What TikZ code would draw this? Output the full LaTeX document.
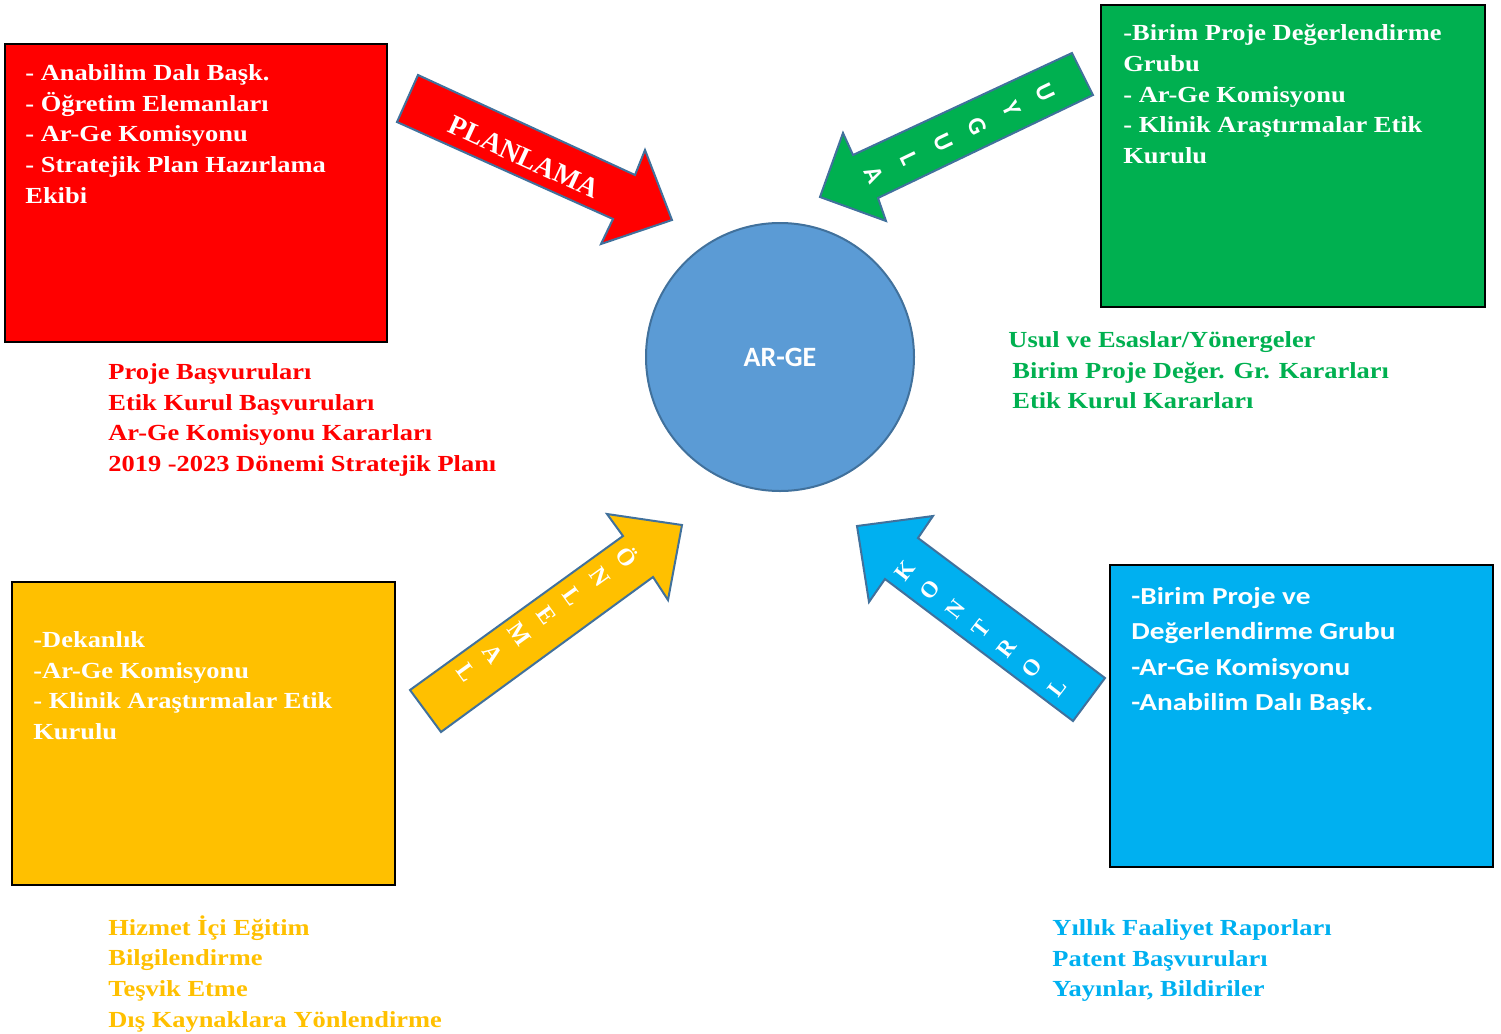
\documentclass[tikz,border=0pt]{standalone}
\usepackage{fontspec}
\setmainfont{Liberation Serif}
\newfontfamily\genis{Liberation Serif}[FakeStretch=1.15]
\newfontfamily\calfont{Carlito}
\newfontfamily\calgenis{Carlito}[FakeStretch=1.2]
\usetikzlibrary{positioning}

\definecolor{kirmizi}{HTML}{FF0000}
\definecolor{yesil}{HTML}{00B050}
\definecolor{sari}{HTML}{FFC000}
\definecolor{mavi}{HTML}{00B0F0}
\definecolor{daire}{HTML}{5B9BD5}
\definecolor{kenar}{HTML}{41719C}

\begin{document}
\begin{tikzpicture}[
      x=0.5pt, y=-0.5pt,
      kutu/.style={draw=black, line width=1pt, anchor=north west,
                   inner sep=0pt, outer sep=0pt},
      ok/.style={draw=kenar, line width=1pt, line join=miter},
      yazi/.style={anchor=north west, inner sep=0pt, align=left,
                   font=\genis\bfseries\fontsize{11.5}{15.35}\selectfont},
      harf/.style={text=white, align=center, inner sep=0pt}
    ]
    \useasboundingbox (0,0) rectangle (1501,1034);

    % kutular
    \node[kutu, fill=kirmizi, minimum width=191pt, minimum height=149pt] (kbox) at (5,44) {};
    \node[kutu, fill=yesil, minimum width=192pt, minimum height=151pt] (ybox) at (1101,5) {};
    \node[kutu, fill=sari, minimum width=191.5pt, minimum height=151.5pt] (sbox) at (12,582) {};
    \node[kutu, fill=mavi, minimum width=191.5pt, minimum height=151pt] (mbox) at (1110,565) {};

    \node[yazi, text=white, below right=10pt and 10pt of kbox.north west] (ktext)
      {- Anabilim Dalı Başk.\\- Öğretim Elemanları\\- Ar-Ge Komisyonu\\- Stratejik Plan Hazırlama\\Ekibi};
    \node[yazi, text=white, below right=9.5pt and 11pt of ybox.north west] (ytext)
      {-Birim Proje Değerlendirme\\Grubu\\- Ar-Ge Komisyonu\\- Klinik Araştırmalar Etik\\Kurulu};
    \node[yazi, text=white, below right=24.5pt and 10.5pt of sbox.north west] (stext)
      {-Dekanlık\\-Ar-Ge Komisyonu\\- Klinik Araştırmalar Etik\\Kurulu};
    \node[yazi, text=white, font=\calgenis\bfseries\fontsize{12.2}{17.75}\selectfont,
          below right=10.8pt and 10.5pt of mbox.north west] (mtext)
      {-Birim Proje ve\\Değerlendirme Grubu\\-Ar-Ge Komisyonu\\-Anabilim Dalı Başk.};

    % alt listeler
    \node[yazi, text=kirmizi] (klist) at (108,363)
      {Proje Başvuruları\\Etik Kurul Başvuruları\\Ar-Ge Komisyonu Kararları\\2019 -2023 Dönemi Stratejik Planı};
    \node[yazi, text=yesil] (ylist) at (1008,331)
      {Usul ve Esaslar/Yönergeler\\\hspace*{2pt}Birim Proje Değer. Gr. Kararları\\\hspace*{2pt}Etik Kurul Kararları};
    \node[yazi, text=sari] (slist) at (108,915)
      {Hizmet İçi Eğitim\\Bilgilendirme\\Teşvik Etme\\Dış Kaynaklara Yönlendirme};
    \node[yazi, text=mavi] (mlist) at (1052,919)
      {Yıllık Faaliyet Raporları\\Patent Başvuruları\\Yayınlar, Bildiriler};

    % merkez
    \node[circle, draw=kenar, fill=daire, line width=1pt, minimum size=134pt,
          text=white, font=\calfont\bfseries\fontsize{14}{14}\selectfont] (arge) at (780,357) {AR-GE};

    % oklar
    \filldraw[ok, fill=kirmizi] (418,75) -- (635,175) -- (645,150) -- (672,220)
      -- (601,244) -- (613,219) -- (397,122) -- cycle;
    \filldraw[ok, fill=yesil] (1072,53) -- (1093,95) -- (878,198) -- (886,221)
      -- (820,197) -- (843,133) -- (853,155) -- cycle;
    \filldraw[ok, fill=sari] (410,690) -- (623,536) -- (607,514) -- (682,525)
      -- (668,600) -- (653,577) -- (441,732) -- cycle;
    \filldraw[ok, fill=mavi] (857,526) -- (933,516) -- (918,538) -- (1105,678)
      -- (1073,721) -- (885,579) -- (869,602) -- cycle;

    \node[harf, rotate=-24.7, font=\bfseries\fontsize{14}{14}\selectfont] (planlama) at (524,157) {PLANLAMA};
    \node[harf, rotate=-64.3, font=\calfont\bfseries\fontsize{12.5}{19}\selectfont] (uygula) at (960,134)
      {U\\Y\\G\\U\\L\\A};
    \node[harf, rotate=-54.3, font=\bfseries\fontsize{12}{16.4}\selectfont] (onlemal) at (548,614)
      {Ö\\N\\L\\E\\M\\A\\L};
    \node[harf, rotate=52.4, font=\bfseries\fontsize{11.5}{16}\selectfont] (kontrol) at (981,629)
      {K\\O\\N\\T\\R\\O\\L};
  \end{tikzpicture}
\end{document}
